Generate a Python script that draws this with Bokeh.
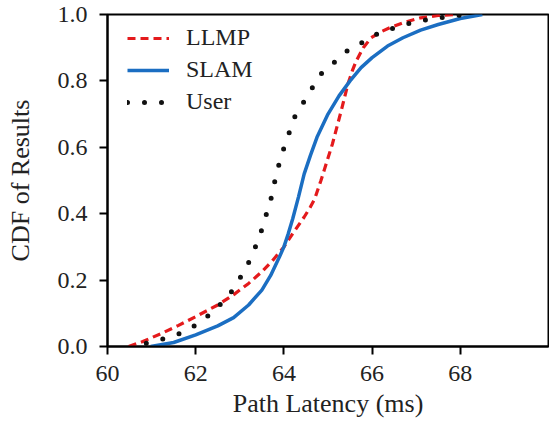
from bokeh.plotting import figure
from bokeh.models import Range1d, FixedTicker, Legend, LegendItem
from bokeh.embed import file_html
from bokeh.resources import INLINE

# ---- data ----
llmp_x = [60.48, 60.8, 61.2, 61.6, 62.0, 62.5, 62.87, 63.2, 63.5, 63.75, 64.0,
          64.2, 64.46, 64.6, 64.7, 64.84, 64.97, 65.1, 65.2, 65.3, 65.45,
          65.55, 65.64, 65.8, 65.98, 66.2, 66.4, 66.75, 67.1, 67.5, 67.95]
llmp_y = [0.0, 0.015, 0.038, 0.063, 0.09, 0.125, 0.157, 0.19, 0.225, 0.26, 0.30,
          0.34, 0.39, 0.42, 0.445, 0.50, 0.555, 0.61, 0.66, 0.71, 0.79,
          0.83, 0.86, 0.90, 0.93, 0.948, 0.96, 0.977, 0.99, 0.997, 1.0]

slam_x = [60.98, 61.5, 62.0, 62.5, 62.86, 63.2, 63.5, 63.7, 63.9, 64.0, 64.1,
          64.2, 64.33, 64.46, 64.6, 64.75, 65.0, 65.25, 65.5, 65.75, 66.0,
          66.35, 66.7, 67.1, 67.5, 68.0, 68.5]
slam_y = [0.0, 0.012, 0.035, 0.062, 0.087, 0.125, 0.17, 0.214, 0.27, 0.30, 0.34,
          0.385, 0.45, 0.52, 0.575, 0.63, 0.70, 0.755, 0.80, 0.84, 0.87,
          0.905, 0.93, 0.953, 0.97, 0.988, 1.0]

user_x = [60.88, 61.26, 61.62, 61.95, 62.26, 62.55, 62.8, 63.0, 63.19, 63.34,
          63.48, 63.59, 63.7, 63.78, 63.87, 63.98, 64.11, 64.24, 64.42, 64.6,
          64.83, 65.1, 65.37, 65.7, 66.04, 66.39, 66.75, 67.14, 67.52, 67.9, 68.3]
user_y = [0.01, 0.023, 0.038, 0.06, 0.09, 0.126, 0.163, 0.205, 0.25, 0.295,
          0.344, 0.393, 0.44, 0.49, 0.54, 0.59, 0.64, 0.69, 0.73, 0.77,
          0.82, 0.85, 0.885, 0.91, 0.937, 0.955, 0.97, 0.982, 0.99, 0.997, 1.0]

x_ticks = [60, 62, 64, 66, 68]
y_ticks = [0.0, 0.2, 0.4, 0.6, 0.8, 1.0]
x_label = "Path Latency (ms)"
y_label = "CDF of Results"

FONT = "Liberation Serif"
FS = "24px"
FS_AX = "26px"

p = figure(width=549, height=421, output_backend="svg", toolbar_location=None,
           x_range=Range1d(60, 70), y_range=Range1d(0, 1),
           min_border_left=107, min_border_top=14, min_border_right=1,
           min_border_bottom=75)

p.xgrid.visible = False
p.ygrid.visible = False
p.outline_line_color = "black"
p.outline_line_width = 2
p.outline_line_alpha = 1

r_llmp = p.line(llmp_x, llmp_y, line_color="#e41a1c", line_width=3.2,
                line_dash="8 5")
r_slam = p.line(slam_x, slam_y, line_color="#1b6ec2", line_width=3.5)
r_user = p.line(user_x, user_y, line_color="#111111", line_width=5,
                line_dash="0 17", line_cap="round")

for ax in (p.xaxis[0], p.yaxis[0]):
    ax.axis_line_color = "black"
    ax.axis_line_width = 2
    ax.major_tick_line_color = "black"
    ax.major_tick_line_width = 2
    ax.major_tick_out = 8
    ax.major_tick_in = 0
    ax.minor_tick_line_color = None
    ax.major_label_text_font = FONT
    ax.major_label_text_font_size = FS
    ax.major_label_text_color = "#222222"
    ax.axis_label_text_font = FONT
    ax.axis_label_text_font_size = FS_AX
    ax.axis_label_text_font_style = "normal"
    ax.axis_label_text_color = "#222222"

p.xaxis.ticker = FixedTicker(ticks=x_ticks)
p.yaxis.ticker = FixedTicker(ticks=y_ticks)
p.yaxis.major_label_overrides = {v: f"{v:.1f}" for v in y_ticks}
p.xaxis.major_label_standoff = 11
p.yaxis.major_label_standoff = 12
p.xaxis.axis_label = x_label
p.yaxis.axis_label = y_label
p.xaxis.axis_label_standoff = 5
p.yaxis.axis_label_standoff = 20

legend = Legend(items=[LegendItem(label="LLMP", renderers=[r_llmp]),
                       LegendItem(label="SLAM", renderers=[r_slam]),
                       LegendItem(label="User", renderers=[r_user])],
                location=(20, 231))
legend.border_line_color = None
legend.background_fill_alpha = 0
legend.label_text_font = FONT
legend.label_text_font_size = FS
legend.label_text_color = "#222222"
legend.glyph_width = 42
legend.glyph_height = 20
legend.spacing = 5
legend.label_standoff = 17
legend.margin = 0
legend.padding = 0
p.add_layout(legend)

open("out.html", "w").write(file_html(p, INLINE))
